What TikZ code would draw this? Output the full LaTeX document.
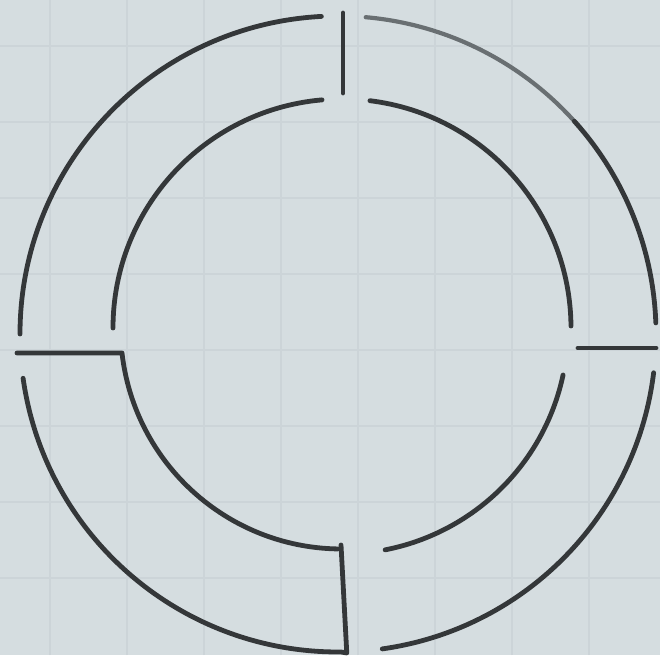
\documentclass[tikz,border=0pt]{standalone}
\usepackage{tikz}
\definecolor{paper}{RGB}{213,221,224}
\definecolor{gridc}{RGB}{204,212,216}
\definecolor{ink}{RGB}{52,55,57}
\definecolor{inklight}{RGB}{105,111,114}
\tikzset{
  wall/.style={draw=ink, line width=4.8pt, line cap=round, line join=round},
  lightwall/.style={draw=inklight, line width=4.2pt, line cap=round},
  gridline/.style={draw=gridc, line width=1.4pt}
}
\begin{document}
\begin{tikzpicture}[x=1pt,y=1pt]
% background (y up: ty = 655 - py)
\fill[paper] (0,0) rectangle (660,655);
\useasboundingbox (0,0) rectangle (660,655);
% faint paper grid
\foreach \gx in {50,127,204,281,358,435,512,589} {\draw[gridline] (\gx,0) -- (\gx,655);}
\foreach \gy in {46,122,198,274,350,426,502,578} {\draw[gridline] (0,655-\gy) -- (660,655-\gy);}
% centres
\coordinate (O) at (338,321);   % outer ring centre
\coordinate (C) at (342,327);   % inner ring centre
% ---- outer ring ----
% top-left
\draw[wall] ([shift={(93:318)}]O) arc[start angle=93,end angle=180,radius=318];
% top-right (lighter at its upper part)
\draw[lightwall] ([shift={(85:318)}]O) arc[start angle=85,end angle=42,radius=318];
\draw[wall] ([shift={(42:318)}]O) arc[start angle=42,end angle=2,radius=318];
% bottom-right
\draw[wall] ([shift={(-7:318)}]O) arc[start angle=-7,end angle=-82,radius=318];
% bottom-left, joined to the short radial wall at the bottom
\draw[wall] ([shift={(188:318)}]O) arc[start angle=188,end angle=270.5,radius=318]
  coordinate (bl) -- ++(6,-1) coordinate (bc) -- (341,110) coordinate (bt);
% ---- inner ring ----
\draw[wall] ([shift={(95:229)}]C) arc[start angle=95,end angle=180,radius=229];
\draw[wall] ([shift={(83:229)}]C) arc[start angle=83,end angle=0.5,radius=229];
\draw[wall] ([shift={(-12:226)}]C) arc[start angle=-12,end angle=-79,radius=226];
% lower-left inner arc, starting from the left horizontal wall
\coordinate (lh) at (17,302);
\draw[wall] (lh) -- (122,302) arc[start angle=186.5,end angle=269,radius=221];
% ---- radial walls ----
\coordinate (tv1) at (343,642);
\coordinate (tv2) at (343,562);
\draw[wall] (tv1) -- (tv2);
\coordinate (rh1) at (578,307);
\coordinate (rh2) at (656,307);
\draw[wall] (rh1) -- (rh2);
\end{tikzpicture}
\end{document}
